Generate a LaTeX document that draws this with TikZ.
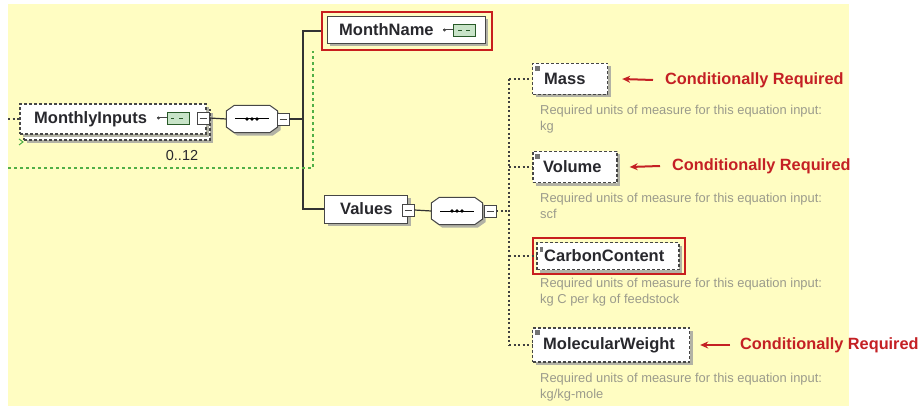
\documentclass[tikz,border=0pt]{standalone}
\usepackage{fontspec}
\setmainfont{Liberation Sans}
\usetikzlibrary{arrows.meta,shadows,calc}
\definecolor{bgyellow}{RGB}{255,253,194}
\definecolor{reqred}{RGB}{196,32,36}
\definecolor{framered}{RGB}{200,30,30}
\definecolor{descgray}{RGB}{155,155,140}
\definecolor{boxline}{RGB}{70,70,70}
\definecolor{shadowgray}{RGB}{178,178,165}
\definecolor{lnkgreen}{RGB}{80,175,70}
\definecolor{iconfill}{RGB}{200,228,200}
\definecolor{icondark}{RGB}{40,90,40}
\definecolor{textdark}{RGB}{40,40,45}
\begin{document}
\begin{tikzpicture}[x=1pt,y=-1pt,
  ename/.style={font=\fontsize{16.5}{19}\selectfont\bfseries, text=textdark, inner sep=0pt, anchor=west},
  desc/.style={font=\fontsize{12.9}{15.5}\selectfont, text=descgray, inner sep=0pt, anchor=north west, align=left},
  cond/.style={font=\fontsize{16.3}{19}\selectfont\bfseries, text=reqred, inner sep=0pt, anchor=west},
  ebox/.style={draw=boxline, fill=white, line width=1pt, inner sep=0pt,
    drop shadow={shadow xshift=3pt, shadow yshift=-3pt, fill=shadowgray, opacity=1}},
  optbox/.style={ebox, dash pattern=on 3pt off 2pt, line width=1.4pt},
  redframe/.style={draw=framered, line width=2.6pt, inner sep=0pt},
  minusbox/.style={draw=boxline, fill=white, line width=0.8pt, minimum size=12pt, inner sep=0pt,
    path picture={\draw[line width=0.9pt] ([xshift=2.5pt]path picture bounding box.west) -- ([xshift=-2.5pt]path picture bounding box.east);}},
  seqbox/.style={rectangle, minimum width=51pt, minimum height=27pt, inner sep=0pt},
  seqline/.style={draw=boxline, fill=white, line width=1pt},
  icon/.style={draw=icondark, fill=iconfill, line width=0.9pt, minimum width=22pt, minimum height=12pt, inner sep=0pt},
  solidlink/.style={draw=black!80, line width=1.2pt},
  dotlink/.style={draw=black!75, line width=1.4pt, dash pattern=on 2pt off 2.5pt},
  greenlink/.style={draw=lnkgreen, line width=1.1pt, dash pattern=on 3pt off 3pt},
  redarrow/.style={draw=reqred, line width=2pt, -{Stealth[length=8pt,width=7pt]}},
  cornermark/.style={fill=black!55}
]
\newcommand{\seqshape}[1]{%
  \fill[shadowgray] ($(#1.north west)+(11,3)$) -- ($(#1.north east)+(-5,3)$) -- ($(#1.east)+(3,-5)$) -- ($(#1.east)+(3,11)$)
     -- ($(#1.south east)+(-5,3)$) -- ($(#1.south west)+(11,3)$) -- ($(#1.west)+(3,11)$) -- ($(#1.west)+(3,-5)$) -- cycle;
  \path[seqline] ($(#1.north west)+(8,0)$) -- ($(#1.north east)+(-8,0)$) -- ($(#1.east)+(0,-8)$) -- ($(#1.east)+(0,8)$)
     -- ($(#1.south east)+(-8,0)$) -- ($(#1.south west)+(8,0)$) -- ($(#1.west)+(0,8)$) -- ($(#1.west)+(0,-8)$) -- cycle;
  \draw[line width=1pt] ($(#1.center)+(-17,0)$) -- ($(#1.center)+(17,0)$);
  \foreach \dx in {-5,0,5} \fill ($(#1.center)+(\dx,0)$) circle (1.9pt);
}
% background
\useasboundingbox (0,0) rectangle (921,409);
\fill[white] (0,0) rectangle (921,409);
\fill[bgyellow] (8,4) rectangle (849,406);

% ---------- MonthlyInputs ----------
\coordinate (lstub) at (8,119);
\node[optbox, minimum width=186pt, minimum height=30pt] (miback) at (117,125) {};
\node[optbox, minimum width=186pt, minimum height=30pt] (mi) at (113,119) {};
\node[ename] (mit) at (34,119) {MonthlyInputs};
\node[icon] (miicon) at (178,118) {};
\draw[icondark, line width=0.8pt] ([xshift=-7pt]miicon.center) -- ++(3,0) ([xshift=1pt]miicon.center) -- ++(4,0);
\draw[boxline, line width=1pt] (miicon.west) -- ++(-10,0);
\fill[boxline] ([xshift=-8pt]miicon.west) circle (1.6pt);
\node[minusbox] (mim) at (203,118) {};
\node[font=\fontsize{14.5}{16}\selectfont, text=textdark, inner sep=0pt] (occ) at (182,156) {0..12};
\draw[dotlink] (lstub) -- (mi.west);
\draw[lnkgreen, line width=1pt] (19,139) -- (23,142) -- (19,145);

% sequence 1
\node[seqbox] (seq1) at (252,119) {};
\seqshape{seq1}
\node[minusbox] (seq1m) at (283,119) {};
\draw[solidlink] (mim.east) -- (seq1.west);
\coordinate (jv) at (303,119);
\draw[solidlink] (seq1m.east) -- (jv);

% ---------- MonthName ----------
\node[redframe, minimum width=170pt, minimum height=38pt] (mnred) at (407,31) {};
\node[ebox, minimum width=158pt, minimum height=27pt] (mn) at (406,30) {};
\node[ename] (mnt) at (339,30) {MonthName};
\node[icon] (mnicon) at (464,30) {};
\draw[icondark, line width=0.8pt] ([xshift=-6pt]mnicon.center) -- ++(4,0) ([xshift=2pt]mnicon.center) -- ++(4,0);
\draw[boxline, line width=1pt] (mnicon.west) -- ++(-10,0);
\fill[boxline] ([xshift=-8pt]mnicon.west) circle (1.6pt);

% ---------- Values ----------
\node[ebox, minimum width=83pt, minimum height=28pt] (val) at (366,209) {};
\node[ename] (valt) at (340,209) {Values};
\node[minusbox] (valm) at (408,210) {};
\node[seqbox] (seq2) at (457,211) {};
\seqshape{seq2}
\node[minusbox] (seq2m) at (490,211) {};
\draw[solidlink] (valm.east) -- (seq2.west);
\coordinate (jv2) at (509,211);
\draw[dotlink] (seq2m.east) -- (jv2);

% trunk lines
\draw[solidlink] (mnred.west) -| (jv) |- (val.west);
\coordinate (g1) at (8,168);
\coordinate (g2) at (313,168);
\draw[greenlink] (g1) -- (g2) -- (g2 |- mnred.south);

% ---------- children ----------
\node[optbox, minimum width=75pt, minimum height=31pt] (mass) at (570,79) {};
\node[ename] (masst) at (544,79) {Mass};
\node[optbox, minimum width=84pt, minimum height=31pt] (vol) at (575,167) {};
\node[ename] (volt) at (543,167) {Volume};
\node[redframe, minimum width=152pt, minimum height=36pt] (ccred) at (609,256) {};
\node[optbox, minimum width=142pt, minimum height=27pt] (cc) at (608,256) {};
\node[ename] (cct) at (544,256) {CarbonContent};
\node[optbox, minimum width=157pt, minimum height=34pt] (mw) at (611,345) {};
\node[ename] (mwt) at (543,345) {MolecularWeight};

\foreach \b in {mass,vol,mw} {
  \fill[cornermark] ([xshift=3pt,yshift=-3pt]\b.north west) rectangle ++(5,5);
}
\fill[cornermark] ([xshift=4pt,yshift=-5pt]cc.north west) rectangle ++(3,5);

\draw[dotlink] (jv2 |- mass.west) -- (jv2 |- mw.west);
\foreach \b in {mass,vol,cc,mw} \draw[dotlink] (jv2 |- \b.west) -- (\b.west);
\draw[dotlink] (ccred.west) -- (cc.west);

% conditional labels
\node[cond] (c1) at (665,80) {Conditionally Required};
\node[cond] (c2) at (672,166) {Conditionally Required};
\node[cond] (c3) at (740,345) {Conditionally Required};
\draw[redarrow] ([xshift=-12pt]c1.west) -- ([xshift=14pt]mass.east);
\draw[redarrow] ([xshift=-12pt]c2.west) -- ([xshift=12pt]vol.east);
\draw[redarrow] ([xshift=-10pt]c3.west) -- ([xshift=10pt]mw.east);

% descriptions
\node[desc] (d1) at (540,105) {Required units of measure for this equation input:\\kg};
\node[desc] (d2) at (540,193) {Required units of measure for this equation input:\\scf};
\node[desc] (d3) at (540,278) {Required units of measure for this equation input:\\kg C per kg of feedstock};
\node[desc] (d4) at (540,373) {Required units of measure for this equation input:\\kg/kg-mole};
\end{tikzpicture}
\end{document}
